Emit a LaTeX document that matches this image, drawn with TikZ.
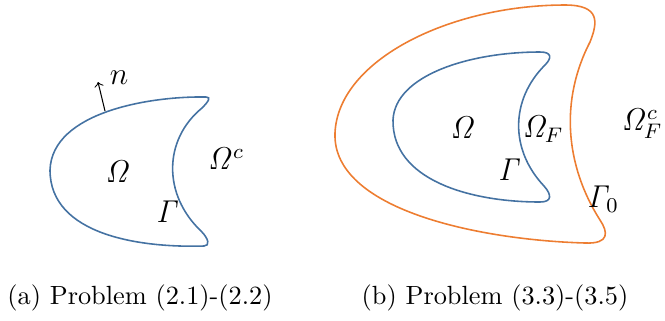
\documentclass[tikz,border=0pt]{standalone}
\usepackage{xcolor}
\definecolor{bndblue}{RGB}{68,114,162}
\definecolor{bndorange}{RGB}{237,125,49}
\tikzset{bnd/.style={line width=0.6pt}, lbl/.style={font=\large, inner sep=1pt}}
\begin{document}
\begin{tikzpicture}[x=0.38pt, y=-0.38pt]
\useasboundingbox (0,0) rectangle (665,320);

% (a) single domain
\draw[bnd, bndblue] (206,97) .. controls (150,96) and (52,112) .. (50,170) .. controls (50,235) and (140,248) .. (204,246) .. controls (210,246) and (209,239) .. (201,231) .. controls (163,195) and (163,140) .. (202,108) .. controls (209,101) and (211,97) .. (206,97) -- cycle;
\coordinate (nb) at (105,111);
\coordinate (nt) at (98,82);
\draw[->] (nb) -- (nt);
\node[lbl] (n) at (119,78) {$n$};
\node[lbl] (om) at (118,172) {$\mathit{\Omega}$};
\node[lbl] (omc) at (226,159) {$\mathit{\Omega}^c$};
\node[lbl] (ga) at (168,212) {$\mathit{\Gamma}$};

% (b) domain with outer boundary
\draw[bnd, bndorange] (565,5) .. controls (450,5) and (338,60) .. (335,133) .. controls (332,210) and (480,240) .. (585,243) .. controls (610,244) and (608,232) .. (600,220) .. controls (565,165) and (560,100) .. (590,42) .. controls (598,22) and (600,5) .. (565,5) -- cycle;
\draw[bnd, bndblue] (540,52) .. controls (470,52) and (395,75) .. (393,120) .. controls (392,180) and (470,202) .. (540,202) .. controls (552,202) and (552,195) .. (544,186) .. controls (510,150) and (510,100) .. (545,65) .. controls (552,58) and (552,52) .. (540,52) -- cycle;
\node[lbl] (omb) at (463,128) {$\mathit{\Omega}$};
\node[lbl] (omf) at (543,129) {$\mathit{\Omega}_F$};
\node[lbl] (omfc) at (642,124) {$\mathit{\Omega}_F^c$};
\node[lbl] (gb) at (510,170) {$\mathit{\Gamma}$};
\node[lbl] (g0) at (603,199) {$\mathit{\Gamma}_0$};

% captions
\node (capa) at (140,298) {(a) Problem (2.1)-(2.2)};
\node (capb) at (495,298) {(b) Problem (3.3)-(3.5)};
\end{tikzpicture}
\end{document}
